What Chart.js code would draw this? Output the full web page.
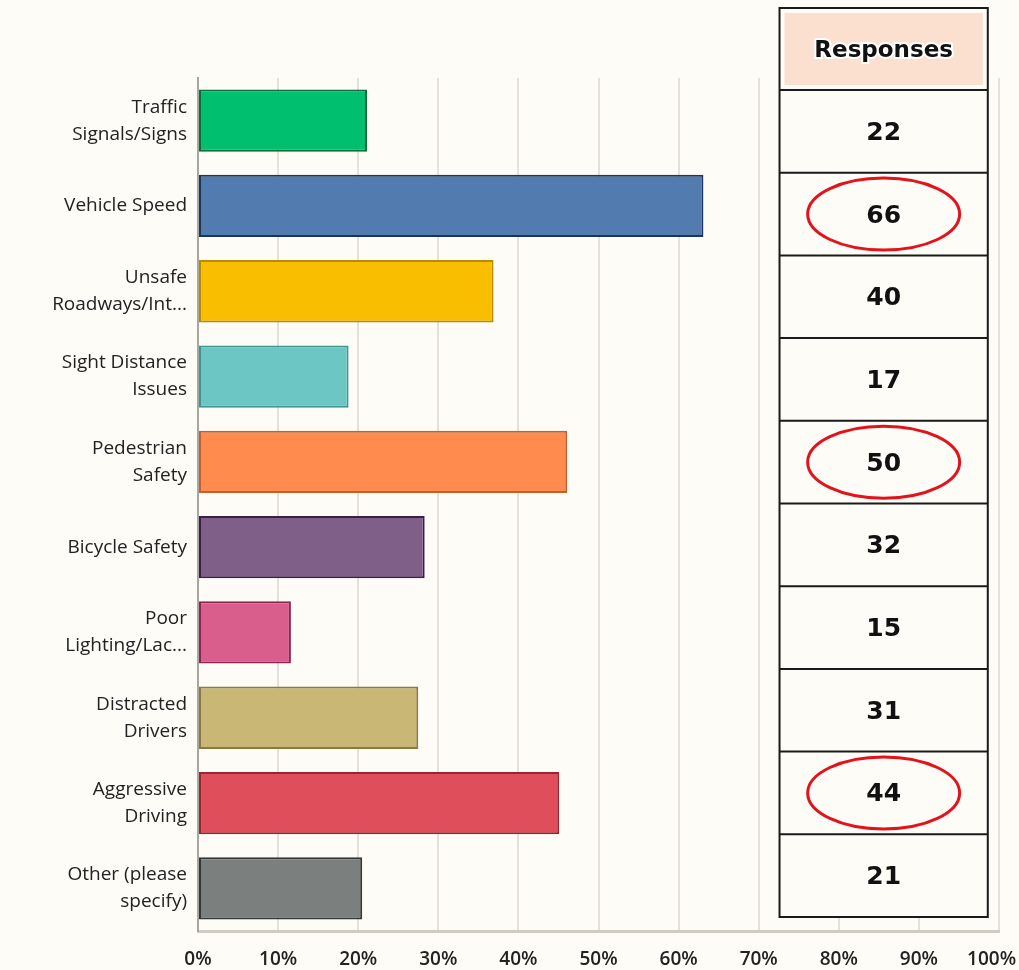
<!DOCTYPE html>
<html>
<head>
<meta charset="utf-8">
<script src="https://cdn.jsdelivr.net/npm/chart.js@4/dist/chart.umd.min.js"></script>
<style>
  html, body { margin: 0; padding: 0; background: #fdfcf6; }
  canvas { display: block; }
</style>
</head>
<body>
<canvas id="chart" width="1019" height="970"></canvas>
<script>
const categories = [
  ['Traffic', 'Signals/Signs'],
  'Vehicle Speed',
  ['Unsafe', 'Roadways/Int...'],
  ['Sight Distance', 'Issues'],
  ['Pedestrian', 'Safety'],
  'Bicycle Safety',
  ['Poor', 'Lighting/Lac...'],
  ['Distracted', 'Drivers'],
  ['Aggressive', 'Driving'],
  ['Other (please', 'specify)']
];
const percents = [21.1, 63.1, 36.9, 18.8, 46.1, 28.3, 11.6, 27.5, 45.1, 20.5];
const responses = [22, 66, 40, 17, 50, 32, 15, 31, 44, 21];
const circled = [66, 50, 44];
// trailing spaces nudge the last label left so it stays on the canvas
const tickLabels = ['0%', '10%', '20%', '30%', '40%', '50%', '60%', '70%', '80%', '90%', '100%   '];

const fills = ['#00bf6f', '#527bb0', '#f9be00', '#6cc6c4', '#ff8b4f', '#7f5e88', '#d95e8b', '#c9b776', '#df4e5b', '#7b7f7d'];
const borders = ['#0a6e3c', '#1c3560', '#b78a00', '#3f9591', '#c2602e', '#3c1f48', '#8e2452', '#8a7a40', '#9a2430', '#333836'];

const bg = '#fdfcf6';

const tablePlugin = {
  id: 'responsesTable',
  afterDatasetsDraw(chart) {
    const ctx = chart.ctx;
    const x = chart.scales.x;
    const area = chart.chartArea;
    const left = x.getPixelForValue(72.6);
    const right = x.getPixelForValue(98.6);
    const top = area.top - 70;
    const headBottom = area.top + 12;
    const bottom = area.bottom - 14;
    const rowH = (bottom - headBottom) / responses.length;
    const cx = (left + right) / 2;

    ctx.save();
    ctx.fillStyle = bg;
    ctx.fillRect(left, top, right - left, bottom - top);
    ctx.fillStyle = '#fbdfcf';
    ctx.fillRect(left + 5, top + 5, right - left - 10, headBottom - top - 10);

    ctx.strokeStyle = '#1a1a1a';
    ctx.lineWidth = 2;
    ctx.strokeRect(left, top, right - left, bottom - top);
    ctx.beginPath();
    for (let i = 0; i < responses.length; i++) {
      const yy = headBottom + i * rowH;
      ctx.moveTo(left, yy);
      ctx.lineTo(right, yy);
    }
    ctx.stroke();

    ctx.textAlign = 'center';
    ctx.textBaseline = 'middle';
    ctx.font = 'bold 23px "DejaVu Sans"';
    ctx.lineWidth = 4;
    ctx.strokeStyle = '#ffffff';
    ctx.strokeText('Responses', cx, (top + headBottom) / 2 + 2);
    ctx.fillStyle = '#111';
    ctx.fillText('Responses', cx, (top + headBottom) / 2 + 2);

    responses.forEach((v, i) => {
      const cy = headBottom + (i + 0.5) * rowH;
      ctx.fillStyle = '#111';
      ctx.font = 'bold 25px "DejaVu Sans"';
      ctx.fillText(String(v), cx, cy + 2);
      if (circled.includes(v)) {
        ctx.beginPath();
        ctx.ellipse(cx, cy, 76, 36, 0, 0, Math.PI * 2);
        ctx.strokeStyle = '#e3121b';
        ctx.lineWidth = 3;
        ctx.stroke();
      }
    });
    ctx.restore();
  }
};

const bgPlugin = {
  id: 'bg',
  beforeDraw(chart) {
    const ctx = chart.ctx;
    ctx.save();
    ctx.fillStyle = bg;
    ctx.fillRect(0, 0, chart.width, chart.height);
    ctx.restore();
  }
};

new Chart(document.getElementById('chart'), {
  type: 'bar',
  data: {
    labels: categories,
    datasets: [{
      data: percents,
      backgroundColor: fills,
      borderColor: borders,
      borderWidth: 2,
      borderSkipped: false,
      barPercentage: 0.73,
      categoryPercentage: 1
    }]
  },
  options: {
    indexAxis: 'y',
    responsive: false,
    animation: false,
    layout: { padding: { top: 78, right: 0, left: 0, bottom: 0 } },
    plugins: {
      legend: { display: false },
      tooltip: { enabled: false }
    },
    scales: {
      x: {
        min: 0,
        max: 100,
        ticks: {
          stepSize: 10,
          padding: 17,
          color: '#222',
          font: { family: 'Open Sans', size: 19, weight: '600' },
          callback: (v, i) => tickLabels[i]
        },
        grid: { color: '#e4e1d8', lineWidth: 2, drawTicks: false },
        border: { color: '#cfccc4', width: 3 },
        afterFit(scale) {
          scale.height = 39;
          scale.paddingRight = 20;
        }
      },
      y: {
        ticks: {
          padding: 11,
          color: '#222',
          font: { family: 'Open Sans', size: 19, weight: '500', lineHeight: 1.42 }
        },
        grid: { display: false, drawTicks: false },
        border: { color: '#a9a6a0', width: 2 },
        afterFit(scale) { scale.width = 198; }
      }
    }
  },
  plugins: [bgPlugin, tablePlugin]
});
</script>
</body>
</html>
